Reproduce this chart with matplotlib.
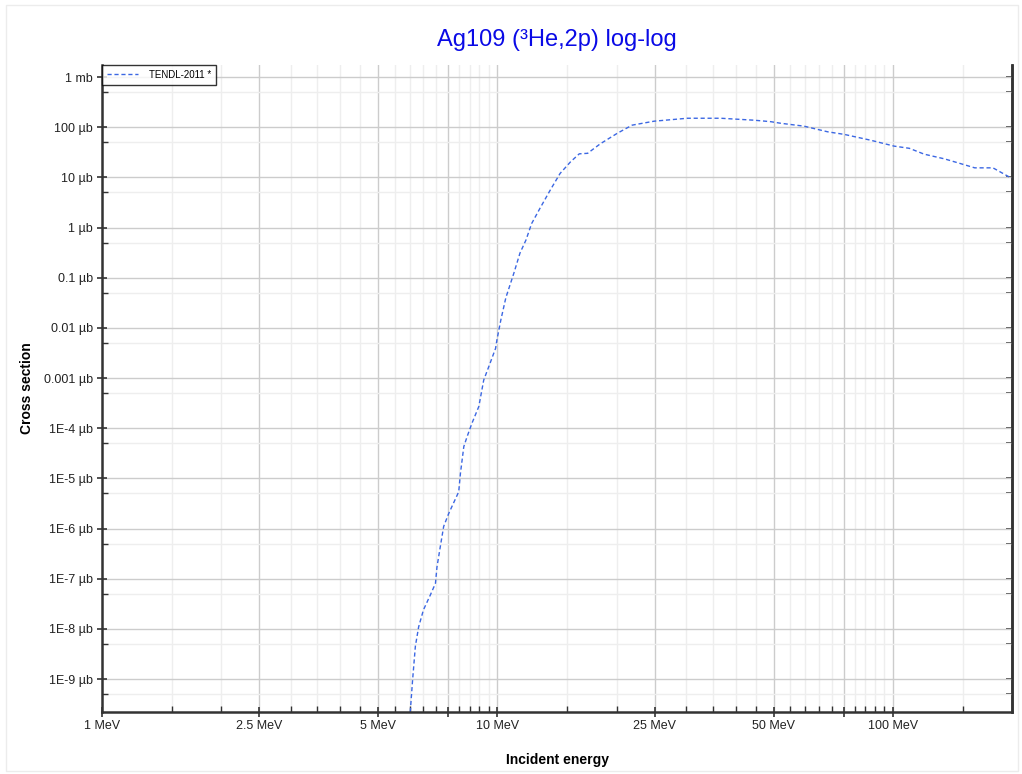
import math
import matplotlib
matplotlib.use("Agg")
import matplotlib.pyplot as plt
import matplotlib.ticker as mticker
from matplotlib.patches import Rectangle

plt.rcParams["font.family"] = ["Liberation Sans", "DejaVu Sans"]

# TENDL-2011 Ag109(3He,2p) cross section
energy_mev = [6.0, 6.1, 6.2, 6.32, 6.5, 6.77, 6.97, 7.03, 7.17, 7.31, 7.53, 7.98,
              8.06, 8.22, 8.38, 8.62, 8.97, 9.23, 9.51, 9.89, 9.97, 10.2, 10.5,
              11.0, 11.4, 11.8, 12.2, 12.8, 13.6, 14.4, 15.3, 16.1, 16.9, 18.2,
              20.1, 21.9, 24.9, 30.2, 36.7, 44.6, 49.1, 52.0, 59.6, 68.4, 75.3,
              87.9, 100.7, 110.0, 120.0, 135.0, 149.0, 161.0, 179.0, 200.0]
xs_ub = [1.6e-10, 9.5e-10, 4.5e-9, 1.1e-8, 2.4e-8, 4.8e-8, 8.1e-8, 1.7e-7, 4.4e-7,
         1.1e-6, 2.0e-6, 5.4e-6, 1.26e-5, 4.3e-5, 6.8e-5, 1.26e-4, 2.7e-4, 9.1e-4,
         1.7e-3, 3.9e-3, 5.8e-3, 0.0145, 0.040, 0.123, 0.31, 0.56, 1.2, 2.4, 5.6,
         12.0, 20.4, 29.5, 30.2, 46.8, 75.9, 110.0, 132.0, 151.0, 151.0, 138.0,
         129.0, 120.0, 105.0, 81.0, 72.0, 55.0, 42.0, 38.0, 29.0, 23.4, 18.6,
         15.5, 15.5, 9.5]

series_label = "TENDL-2011 *"
title = "Ag109 (³He,2p) log-log"

x_major = [1, 2.5, 5, 7.5, 10, 25, 50, 75, 100]
x_labeled = {1: "1 MeV", 2.5: "2.5 MeV", 5: "5 MeV", 10: "10 MeV",
             25: "25 MeV", 50: "50 MeV", 100: "100 MeV"}
x_minor = [1.5, 2, 3, 3.5, 4, 4.5, 5.5, 6, 6.5, 7, 8, 8.5, 9, 9.5,
           15, 20, 30, 35, 40, 45, 55, 60, 65, 70, 80, 85, 90, 95, 150]


def y_fmt(v, pos):
    if v >= 1000:
        return f"{v/1000:g} mb"
    if v >= 0.001:
        return f"{v:g} µb"
    return f"1E{int(round(math.log10(v)))} µb"


def x_fmt(v, pos):
    for k, s in x_labeled.items():
        if abs(v - k) < 1e-6:
            return s
    return ""


fig = plt.figure(figsize=(10.22, 7.74), dpi=100)
fig.patches.append(Rectangle((0.006, 0.004), 0.99, 0.99, transform=fig.transFigure,
                             fill=False, edgecolor="#ececec", lw=1))
ax = fig.add_axes([102/1022, 62/774, 910/1022, 647/774])

ax.plot(energy_mev, xs_ub, color="#3b67e3", lw=1.0, ls=(0, (3, 2)),
        label=series_label)

ax.set_xscale("log")
ax.set_yscale("log")
ax.set_xlim(1, 200)
ax.set_ylim(2.2e-10, 1.74e3)

ax.xaxis.set_major_locator(mticker.FixedLocator(x_major))
ax.xaxis.set_minor_locator(mticker.FixedLocator(x_minor))
ax.xaxis.set_major_formatter(mticker.FuncFormatter(x_fmt))
ax.xaxis.set_minor_formatter(mticker.NullFormatter())

ax.yaxis.set_major_locator(mticker.LogLocator(base=10, numticks=30))
ax.yaxis.set_minor_locator(mticker.LogLocator(base=10, subs=(5,), numticks=30))
ax.yaxis.set_major_formatter(mticker.FuncFormatter(y_fmt))
ax.yaxis.set_minor_formatter(mticker.NullFormatter())

ax.grid(True, which="major", color="#cccccc", lw=1.0)
ax.grid(True, which="minor", color="#eeeeee", lw=1.0)
ax.set_axisbelow(True)

for s in ["left", "bottom", "right"]:
    ax.spines[s].set_color("#333333")
    ax.spines[s].set_linewidth(1.8)
ax.spines["top"].set_visible(False)

ax.tick_params(which="major", direction="inout", length=7, width=1.2,
               colors="#333333", labelsize=9, labelcolor="#222222", pad=2)
ax.tick_params(which="minor", direction="in", length=4, width=1.0, colors="#333333")
ax.tick_params(axis="y", which="major", pad=3)

# right side: inward ticks only, no labels
ax_r = ax.secondary_yaxis("right")
ax_r.yaxis.set_major_locator(mticker.LogLocator(base=10, numticks=30))
ax_r.yaxis.set_minor_locator(mticker.LogLocator(base=10, subs=(5,), numticks=30))
ax_r.yaxis.set_major_formatter(mticker.NullFormatter())
ax_r.yaxis.set_minor_formatter(mticker.NullFormatter())
ax_r.tick_params(which="both", direction="in", length=4, width=1.2, colors="#333333")
ax_r.spines["right"].set_color("#333333")
ax_r.spines["right"].set_linewidth(1.8)

ax.set_title(title, color="#0a0ae6", fontsize=17, pad=14)
ax.set_xlabel("Incident energy", fontsize=10, fontweight="bold")
ax.set_ylabel("Cross section", fontsize=10, fontweight="bold")
ax.xaxis.set_label_coords(0.5, -0.064)
ax.yaxis.set_label_coords(-0.075, 0.5)

leg = ax.legend(loc="upper left", fontsize=7, frameon=True, fancybox=False,
                borderaxespad=0, handlelength=3.2, borderpad=0.5, handletextpad=1.1)
leg.get_frame().set_edgecolor("black")
leg.get_frame().set_linewidth(1.0)

fig.savefig("out.png", dpi=100, facecolor="white")
